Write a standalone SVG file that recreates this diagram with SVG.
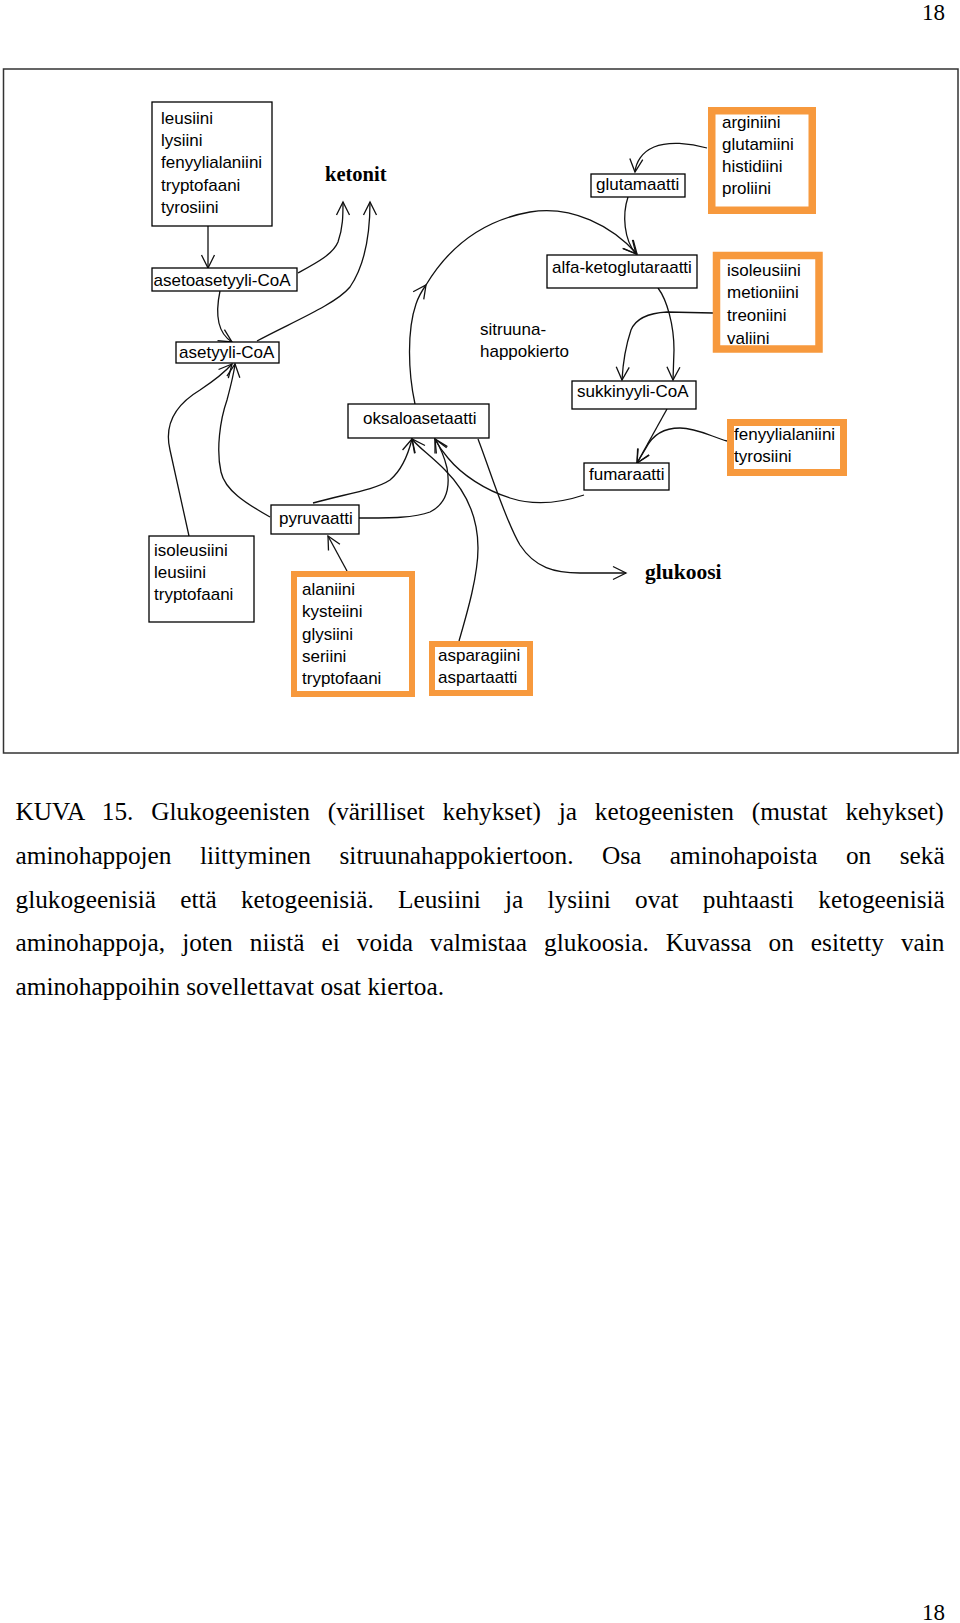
<svg xmlns="http://www.w3.org/2000/svg" width="960" height="1623" viewBox="0 0 960 1623">
<style>
.bg{fill:#fff}
.frame{fill:none;stroke:#333;stroke-width:1.5}
.box{fill:#fff;stroke:#000;stroke-width:1.3}
.ofill{fill:#fff;stroke:none}
.obox{fill:none;stroke:#F7993D}
.lbl{font-family:"Liberation Sans",Arial,sans-serif;font-size:17px;fill:#000}
.big{font-family:"Liberation Serif","Times New Roman",serif;font-weight:bold;fill:#000}
.edge{fill:none;stroke:#111;stroke-width:1.3;marker-end:url(#arr)}
.cap{font-family:"Liberation Serif","Times New Roman",serif;font-size:25.3px;fill:#000}
.pg{font-family:"Liberation Serif","Times New Roman",serif;font-size:23px;fill:#000}
</style>
<defs>
<marker id="arr" markerUnits="userSpaceOnUse" viewBox="-15 -8 17 16" markerWidth="17" markerHeight="16" refX="0" refY="0" orient="auto" overflow="visible">
<path d="M-13,-6.5 L0,0 L-13,6.5" fill="none" stroke="#111" stroke-width="1.3"/>
</marker>
</defs>
<rect class="bg" x="0" y="0" width="960" height="1623"/>
<text class="pg" x="945" y="20" text-anchor="end">18</text>
<rect class="frame" x="3.5" y="69" width="954.5" height="684"/>

<g id="connectors">
<path class="edge" d="M208,226 L208,268"/>
<path class="edge" d="M220,291 C216,310 216,332 232,342"/>
<path class="edge" d="M298,273 C318,262 333,254 338,242 C343,228 343,215 343,202"/>
<path class="edge" d="M257,341 C290,323 335,305 350,287 C365,265 370,235 370,202"/>
<path class="edge" d="M189,536 L170,450 C164,425 175,405 200,390 C215,380 225,372 232,364"/>
<path class="edge" d="M270,517 C245,503 225,490 221,472 C216,450 220,420 227,400 C231,385 234,372 235,364"/>
<path class="edge" d="M707,148 C690,143 668,141 654,147 C642,152 636,162 635,172"/>
<path class="edge" d="M628,197 C622,215 624,240 636,254"/>
<path class="edge" d="M415,404 C408,372 407,330 416,304 C418,298 421,292 426,285"/>
<path class="edge" d="M426,285 C450,245 485,220 530,212 C572,205 612,226 637,254"/>
<path class="edge" d="M713,313 L667,312 C648,313 636,318 631,330 C626,345 623,362 622,380"/>
<path class="edge" d="M658,288 C667,300 674,325 674,350 L673,380"/>
<path class="edge" d="M667,409 L637,463"/>
<path class="edge" d="M727,441 C712,437 697,428 680,428 C663,428 652,436 646,448 L637,463"/>
<path class="edge" d="M347,571 L328,536"/>
<path class="edge" d="M313,503 C345,494 375,490 390,480 C402,470 408,455 412,439"/>
<path class="edge" d="M359,518 C390,518 415,518 430,512 C448,503 450,485 447,468 C444,455 440,447 435,439"/>
<path class="edge" d="M459,641 C468,610 478,575 478,548 C478,515 465,490 445,470 C430,455 418,447 412,439"/>
<path class="edge" d="M584,495 C560,503 535,506 510,498 C485,490 462,475 448,458 C441,450 438,445 435,439"/>
<path class="edge" d="M478,439 C490,470 505,520 520,545 C535,568 555,573 580,573 L626,573"/>
</g>

<g id="n-leusiini">
<rect class="box" x="152" y="102" width="120" height="124"/>
<text class="lbl" x="161" y="123.5">leusiini</text>
<text class="lbl" x="161" y="145.9">lysiini</text>
<text class="lbl" x="161" y="168.3">fenyylialaniini</text>
<text class="lbl" x="161" y="190.7">tryptofaani</text>
<text class="lbl" x="161" y="213.1">tyrosiini</text>
</g>
<g id="n-ketonit"><text class="big" x="325" y="181" font-size="20.5">ketonit</text></g>
<g id="n-asetoasetyyli">
<rect class="box" x="152" y="268" width="145" height="23"/>
<text class="lbl" x="153.5" y="285.5">asetoasetyyli-CoA</text>
</g>
<g id="n-asetyyli">
<rect class="box" x="176" y="342" width="103" height="21"/>
<text class="lbl" x="179" y="358">asetyyli-CoA</text>
</g>
<g id="n-glutamaatti">
<rect class="box" x="591" y="174" width="94" height="23"/>
<text class="lbl" x="596" y="189.5">glutamaatti</text>
</g>
<g id="n-arginiini">
<rect class="ofill" x="711.75" y="110.75" width="100.5" height="99.5"/>
<text class="lbl" x="722" y="128">arginiini</text>
<text class="lbl" x="722" y="150.3">glutamiini</text>
<text class="lbl" x="722" y="172.3">histidiini</text>
<text class="lbl" x="722" y="194.3">proliini</text>
<rect class="obox" x="711.75" y="110.75" width="100.5" height="99.5" stroke-width="7.5"/>
</g>
<g id="n-alfaketoglutaraatti">
<rect class="box" x="547" y="255" width="150" height="33"/>
<text class="lbl" x="552" y="273">alfa-ketoglutaraatti</text>
</g>
<g id="n-isoleusiini-o">
<rect class="ofill" x="716.5" y="255.5" width="102.5" height="93.5"/>
<text class="lbl" x="727" y="276">isoleusiini</text>
<text class="lbl" x="727" y="298.4">metioniini</text>
<text class="lbl" x="727" y="320.8">treoniini</text>
<text class="lbl" x="727" y="343.5">valiini</text>
<rect class="obox" x="716.5" y="255.5" width="102.5" height="93.5" stroke-width="7.5"/>
</g>
<g id="n-sitruunahappokierto">
<text class="lbl" x="480" y="335">sitruuna-</text>
<text class="lbl" x="480" y="357">happokierto</text>
</g>
<g id="n-sukkinyyli">
<rect class="box" x="572" y="381" width="124" height="28"/>
<text class="lbl" x="577" y="397">sukkinyyli-CoA</text>
</g>
<g id="n-oksaloasetaatti">
<rect class="box" x="348" y="404" width="141" height="34"/>
<text class="lbl" x="363" y="424">oksaloasetaatti</text>
</g>
<g id="n-fenyylialaniini-o">
<rect class="ofill" x="730.5" y="422.5" width="113" height="50"/>
<text class="lbl" x="734" y="440">fenyylialaniini</text>
<text class="lbl" x="734" y="462">tyrosiini</text>
<rect class="obox" x="730.5" y="422.5" width="113" height="50" stroke-width="7"/>
</g>
<g id="n-fumaraatti">
<rect class="box" x="584" y="463" width="85" height="27"/>
<text class="lbl" x="589" y="480">fumaraatti</text>
</g>
<g id="n-pyruvaatti">
<rect class="box" x="271" y="505" width="88" height="29"/>
<text class="lbl" x="279" y="524">pyruvaatti</text>
</g>
<g id="n-glukoosi"><text class="big" x="645" y="579" font-size="21.5">glukoosi</text></g>
<g id="n-isoleusiini-k">
<rect class="box" x="149" y="536" width="105" height="86"/>
<text class="lbl" x="154" y="556">isoleusiini</text>
<text class="lbl" x="154" y="578.3">leusiini</text>
<text class="lbl" x="154" y="600.3">tryptofaani</text>
</g>
<g id="n-alaniini-o">
<rect class="ofill" x="294" y="574" width="118" height="120"/>
<text class="lbl" x="302" y="595">alaniini</text>
<text class="lbl" x="302" y="617.3">kysteiini</text>
<text class="lbl" x="302" y="639.6">glysiini</text>
<text class="lbl" x="302" y="661.9">seriini</text>
<text class="lbl" x="302" y="684.2">tryptofaani</text>
<rect class="obox" x="294" y="574" width="118" height="120" stroke-width="6"/>
</g>
<g id="n-asparagiini-o">
<rect class="ofill" x="432" y="644" width="98" height="49"/>
<text class="lbl" x="438" y="661">asparagiini</text>
<text class="lbl" x="438" y="683">aspartaatti</text>
<rect class="obox" x="432" y="644" width="98" height="49" stroke-width="6"/>
</g>

<g id="caption">
<text class="cap" x="15.5" y="820" style="word-spacing:11.5px">KUVA 15. Glukogeenisten (värilliset kehykset) ja ketogeenisten (mustat kehykset)</text>
<text class="cap" x="15.5" y="863.8" style="word-spacing:22.2px">aminohappojen liittyminen sitruunahappokiertoon. Osa aminohapoista on sekä</text>
<text class="cap" x="15.5" y="907.6" style="word-spacing:17.9px">glukogeenisiä että ketogeenisiä. Leusiini ja lysiini ovat puhtaasti ketogeenisiä</text>
<text class="cap" x="15.5" y="951.4" style="word-spacing:10.7px">aminohappoja, joten niistä ei voida valmistaa glukoosia. Kuvassa on esitetty vain</text>
<text class="cap" x="15.5" y="995.2">aminohappoihin sovellettavat osat kiertoa.</text>
</g>
<text class="pg" x="945" y="1620" text-anchor="end">18</text>
</svg>
